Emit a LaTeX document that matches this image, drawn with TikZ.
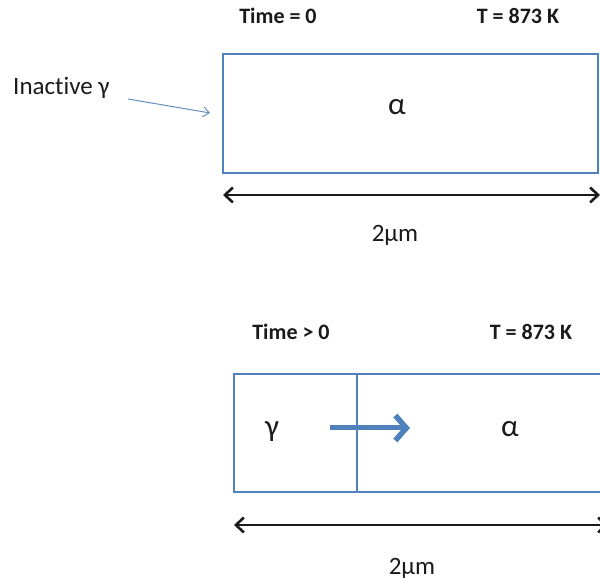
\documentclass[tikz,border=0pt]{standalone}
\usepackage{fontspec}
\setmainfont[Ligatures={NoCommon}]{Carlito}
\usetikzlibrary{arrows.meta}
\definecolor{boxblue}{HTML}{4F81BD}
\definecolor{thinblue}{HTML}{6A8FBF}
\definecolor{ink}{HTML}{1A1A1A}
\tikzset{
  x=1pt, y=1pt,
  phase/.style={draw=boxblue, line width=1.8pt},
  label/.style={text=ink, font=\fontsize{25}{28}\selectfont, inner sep=0pt},
  greek/.style={text=ink, font=\fontsize{31}{34}\selectfont, inner sep=0pt},
  heading/.style={text=ink, font=\fontsize{22}{25}\selectfont\bfseries, inner sep=0pt},
  span/.style={draw=ink, line width=2.6pt,
    {Straight Barb[length=8pt,width=15pt,line width=2.6pt]}-{Straight Barb[length=8pt,width=15pt,line width=2.6pt]}},
  growth/.style={draw=boxblue, line width=5pt, -{Straight Barb[length=11pt,width=25pt,line width=5.5pt]}},
  pointer/.style={draw=thinblue, line width=1pt, -{Straight Barb[length=6pt,width=10pt]}}
}
\begin{document}
\begin{tikzpicture}
  \useasboundingbox (0,0) rectangle (600,585);

  % --- initial state: single alpha grain ---
  \node[heading] (t0) at (278,569) {Time = 0};
  \node[heading] (temp0) at (518,569) {T = 873 K};
  \draw[phase] (223,531) rectangle (598,412);
  \node[greek] (alphaA) at (397,478) {α};
  \node[label, anchor=west] (inactive) at (13,497) {Inactive γ};
  \coordinate (ptrStart) at (128,486);
  \coordinate (ptrEnd) at (210,472);
  \draw[pointer] (ptrStart) -- (ptrEnd);
  \coordinate (spanAL) at (223,390);
  \coordinate (spanAR) at (600,390);
  \draw[span] (spanAL) -- (spanAR);
  \node[label] (lenA) at (395,350) {2µm};

  % --- later state: gamma growing into alpha ---
  \node[heading] (t1) at (291,253) {Time > 0};
  \node[heading] (temp1) at (531,253) {T = 873 K};
  \draw[phase] (234,211) rectangle (610,93);
  \coordinate (ifTop) at (357,211);
  \coordinate (ifBot) at (357,93);
  \draw[phase] (ifTop) -- (ifBot);
  \node[greek] (gammaB) at (272,153) {γ};
  \node[greek] (alphaB) at (510,156) {α};
  \coordinate (growStart) at (330,157);
  \coordinate (growEnd) at (410,157);
  \draw[growth] (growStart) -- (growEnd);
  \coordinate (spanBL) at (234,60);
  \coordinate (spanBR) at (608,60);
  \draw[span] (spanBL) -- (spanBR);
  \node[label] (lenB) at (412,17) {2µm};
\end{tikzpicture}
\end{document}
